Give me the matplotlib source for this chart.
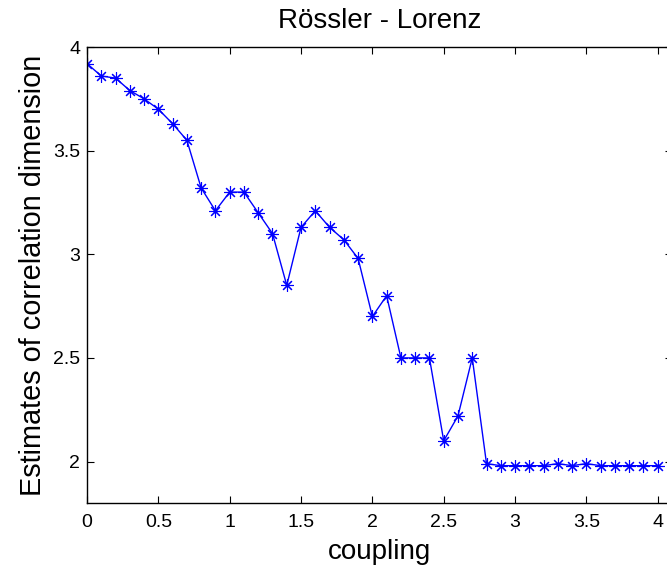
import matplotlib
matplotlib.use("Agg")
import matplotlib.pyplot as plt
import numpy as np

plt.rcParams['font.family'] = ['Liberation Sans', 'DejaVu Sans']

coupling = [0.0, 0.1, 0.2, 0.3, 0.4, 0.5, 0.6, 0.7, 0.8, 0.9,
            1.0, 1.1, 1.2, 1.3, 1.4, 1.5, 1.6, 1.7, 1.8, 1.9,
            2.0, 2.1, 2.2, 2.3, 2.4, 2.5, 2.6, 2.7, 2.8, 2.9,
            3.0, 3.1, 3.2, 3.3, 3.4, 3.5, 3.6, 3.7, 3.8, 3.9, 4.0]
corr_dim = [3.92, 3.86, 3.85, 3.79, 3.75, 3.70, 3.63, 3.55, 3.32, 3.21,
            3.30, 3.30, 3.20, 3.10, 2.85, 3.13, 3.21, 3.13, 3.07, 2.98,
            2.70, 2.80, 2.50, 2.50, 2.50, 2.10, 2.22, 2.50, 1.99, 1.98,
            1.98, 1.98, 1.98, 1.99, 1.98, 1.99, 1.98, 1.98, 1.98, 1.98, 1.98]
x_ticks = [0, 0.5, 1, 1.5, 2, 2.5, 3, 3.5, 4]
x_tick_labels = ['0', '0.5', '1', '1.5', '2', '2.5', '3', '3.5', '4']
y_ticks = [2, 2.5, 3, 3.5, 4]
y_tick_labels = ['2', '2.5', '3', '3.5', '4']

fig = plt.figure(figsize=(6.67, 5.72), dpi=100)
ax = fig.add_axes([87 / 667, 69 / 572, 585 / 667, 456 / 572])

ax.plot(coupling, corr_dim, color='#0000ff', linewidth=1.0,
        marker=(8, 2, 0), markersize=9, markeredgewidth=0.8,
        markeredgecolor='#0000ff')

ax.set_xlim(0, 4.1)
ax.set_ylim(1.8, 4.0)
ax.set_xticks(x_ticks)
ax.set_xticklabels(x_tick_labels)
ax.set_yticks(y_ticks)
ax.set_yticklabels(y_tick_labels)
ax.tick_params(direction='in', length=5, width=0.8, labelsize=14,
               top=True, right=True)
ax.tick_params(axis='x', pad=8)
ax.tick_params(axis='y', pad=5)

for s in ax.spines.values():
    s.set_linewidth(1.0)

ax.set_title('Rössler - Lorenz', fontsize=20, pad=14)
ax.set_xlabel('coupling', fontsize=20, labelpad=6)
ax.set_ylabel('Estimates of correlation dimension', fontsize=20.8, labelpad=4)

fig.savefig('out.png', dpi=100)
